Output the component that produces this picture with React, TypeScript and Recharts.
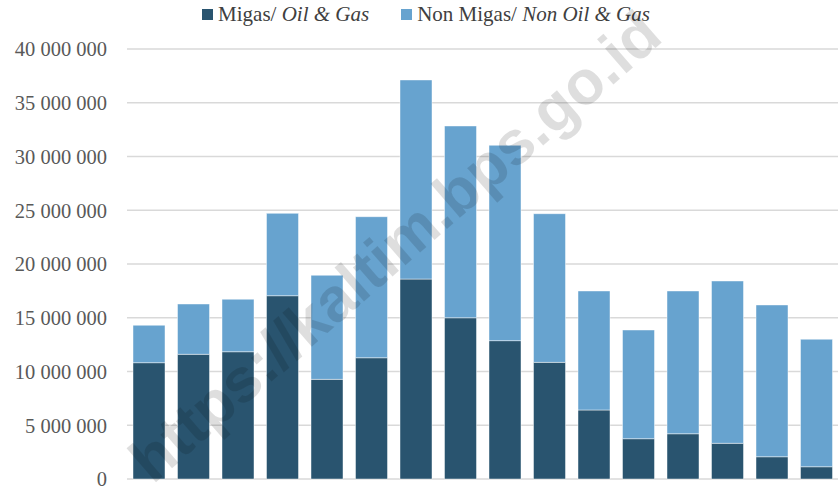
import { BarChart, Bar, XAxis, YAxis, CartesianGrid } from "recharts";

// periods are not visible in the picture (axis labels are cropped off)
const periods = ["P1", "P2", "P3", "P4", "P5", "P6", "P7", "P8", "P9", "P10", "P11", "P12", "P13", "P14", "P15", "P16"];
const migas = [10820000, 11600000, 11840000, 17050000, 9270000, 11280000, 18600000, 15000000, 12870000, 10850000, 6420000, 3750000, 4210000, 3320000, 2070000, 1140000];
const nonMigas = [3480000, 4680000, 4880000, 7660000, 9680000, 13120000, 18520000, 17840000, 18170000, 13830000, 11070000, 10110000, 13280000, 15100000, 14120000, 11860000];
const yTicks = [0, 5000000, 10000000, 15000000, 20000000, 25000000, 30000000, 35000000, 40000000];

const DARK = "#29546f";
const LIGHT = "#67a3cf";
const FONT = "'Liberation Serif', serif";

const data = periods.map((p, i) => ({ period: p, migas: migas[i], nonMigas: nonMigas[i] }));

const fmt = (v: number) => String(v).replace(/\B(?=(\d{3})+(?!\d))/g, " ");

function LegendRow() {
  const sq = (c: string) => (
    <span style={{ display: "inline-block", width: 11, height: 11, background: c, marginRight: 5, verticalAlign: "middle", position: "relative", top: -2 }} />
  );
  return (
    <div style={{ position: "absolute", left: 0, top: 2, width: 838, textAlign: "center", fontFamily: FONT, fontSize: 21, color: "#404040", whiteSpace: "nowrap", paddingLeft: 14, boxSizing: "border-box" }}>
      <span style={{ marginRight: 32 }}>
        {sq(DARK)}Migas/ <i>Oil &amp; Gas</i>
      </span>
      <span>
        {sq(LIGHT)}Non Migas/ <i>Non Oil &amp; Gas</i>
      </span>
    </div>
  );
}

export default function App() {
  return (
    <div style={{ position: "absolute", left: 0, top: 0, width: 838, height: 489, overflow: "hidden", background: "#fff" }}>
      <LegendRow />
      <div style={{ position: "absolute", left: 0, top: 0 }}>
        <BarChart width={840} height={489} data={data} margin={{ top: 49, right: 1, bottom: 10, left: 0 }}>
          <CartesianGrid vertical={false} stroke="#d9d9d9" strokeWidth={1.5} />
          <XAxis dataKey="period" hide />
          <YAxis
            domain={[0, 40000000]}
            ticks={yTicks}
            width={127}
            axisLine={false}
            tickLine={false}
            tickSize={0}
            tickMargin={20}
            tickFormatter={fmt}
            tick={{ fontFamily: FONT, fontSize: 20.5, fill: "#595959" }}
            interval={0}
          />
          <Bar dataKey="migas" stackId="a" fill={DARK} stroke="#ffffff" strokeOpacity={0.45} strokeWidth={1} barSize={32} isAnimationActive={false} />
          <Bar dataKey="nonMigas" stackId="a" fill={LIGHT} stroke="#ffffff" strokeOpacity={0.45} strokeWidth={1} barSize={32} isAnimationActive={false} />
        </BarChart>
      </div>
      <svg width={838} height={489} style={{ position: "absolute", left: 0, top: 0, pointerEvents: "none" }}>
        <text
          x={398}
          y={250}
          textAnchor="middle"
          dominantBaseline="middle"
          transform="rotate(-41 398 250)"
          fontFamily="'Liberation Sans', Arial, sans-serif"
          fontWeight="bold"
          fontSize={62}
          fill="#000"
          fillOpacity={0.13}
        >
          https://kaltim.bps.go.id
        </text>
      </svg>
    </div>
  );
}
